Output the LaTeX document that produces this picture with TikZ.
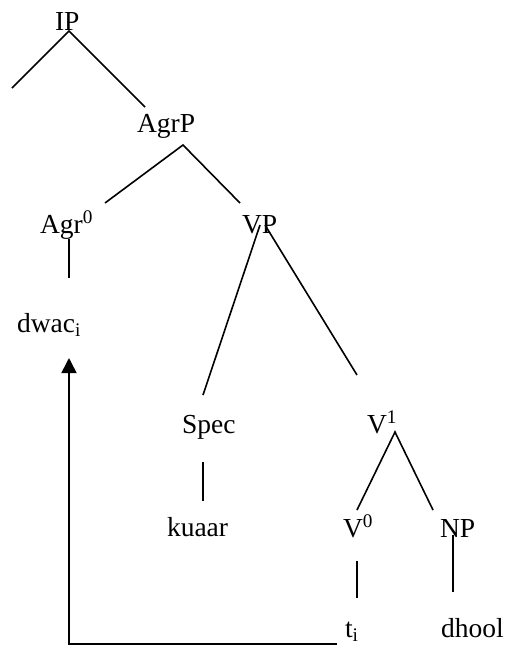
\documentclass[tikz,border=0pt]{standalone}
\usepackage{fontspec}
\setmainfont{Liberation Serif}
\usetikzlibrary{calc,arrows.meta}
\begin{document}
\begin{tikzpicture}[x=1pt,y=-1pt,
  lab/.style={inner sep=0pt,outer sep=0pt,anchor=base west,font=\fontsize{27.5}{33}\selectfont},
  branch/.style={line width=1.6pt},
  move/.style={line width=1.6pt,-{Triangle[width=15pt,length=15pt]}}]
\useasboundingbox (0,0) rectangle (507,646);
\node[lab] (IP)   at (55,30)   {IP};
\node[lab] (AgrP) at (137,132) {AgrP};
\node[lab] (Agr)  at (40,233)  {Agr\textsuperscript{0}};
\node[lab] (VP)   at (242,233) {VP};
\node[lab] (dwac) at (17,332)  {dwac\textsubscript{i}};
\node[lab] (Spec) at (182,433) {Spec};
\node[lab] (Vbar) at (367,433) {V\textsuperscript{1}};
\node[lab] (kuaar) at (167,536) {kuaar};
\node[lab] (V0)   at (343,537) {V\textsuperscript{0}};
\node[lab] (NP)   at (440,537) {NP};
\node[lab] (ti)   at (345,637) {t\textsubscript{i}};
\node[lab] (dhool) at (441,637) {dhool};
\coordinate (ipl) at (12,88);
% IP
\draw[branch] (ipl) -- ($(IP.base west)+(14,1)$) -- ($(AgrP.base west)+(8,-25)$);
% AgrP
\draw[branch] ($(Agr.base west)+(65,-30)$) -- ($(AgrP.base west)+(46,13)$) -- ($(VP.base west)+(-2,-30)$);
% Agr0 - dwac
\draw[branch] ($(Agr.base west)+(29,6)$) -- ($(dwac.base west)+(52,-54)$);
% VP
\draw[branch] ($(VP.base west)+(18,-8)$) -- ($(Spec.base west)+(21,-38)$);
\draw[branch] ($(VP.base west)+(23,-8)$) -- ($(Vbar.base west)+(-10,-58)$);
% Spec - kuaar
\draw[branch] ($(Spec.base west)+(21,29)$) -- ($(kuaar.base west)+(36,-35)$);
% V1
\draw[branch] ($(V0.base west)+(14,-27)$) -- ($(Vbar.base west)+(28,-1)$) -- ($(NP.base west)+(-7,-27)$);
% V0 - t
\draw[branch] ($(V0.base west)+(14,24)$) -- ($(ti.base west)+(12,-39)$);
% NP - dhool
\draw[branch] ($(NP.base west)+(13,-2)$) -- ($(dhool.base west)+(12,-45)$);
% movement arrow
\draw[move] ($(ti.base west)+(-8,7)$) -| ($(dwac.base west)+(52,26)$);
\end{tikzpicture}
\end{document}
